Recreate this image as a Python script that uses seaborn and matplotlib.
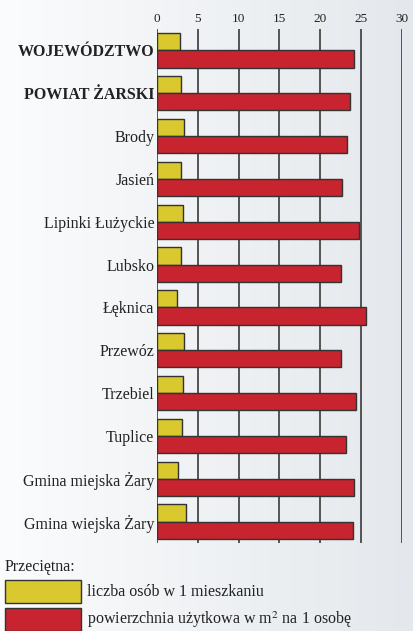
import numpy as np
import pandas as pd
import seaborn as sns
import matplotlib.pyplot as plt
from matplotlib.colors import LinearSegmentedColormap
from matplotlib.patches import Patch

# Data
places = ['WOJEWÓDZTWO', 'POWIAT ŻARSKI', 'Brody', 'Jasień', 'Lipinki Łużyckie',
          'Lubsko', 'Łęknica', 'Przewóz', 'Trzebiel', 'Tuplice',
          'Gmina miejska Żary', 'Gmina wiejska Żary']
persons_per_flat = [2.87, 2.95, 3.32, 2.99, 3.19, 2.99, 2.50, 3.32, 3.19, 3.11, 2.62, 3.56]
area_per_person = [24.1, 23.6, 23.3, 22.7, 24.7, 22.5, 25.6, 22.5, 24.4, 23.1, 24.2, 24.0]
series = ['liczba osób w 1 mieszkaniu', 'powierzchnia użytkowa w m$^2$ na 1 osobę']
colors = ['#d9c82e', '#c8242f']

df = pd.DataFrame({'place': places, series[0]: persons_per_flat, series[1]: area_per_person})
df_long = df.melt(id_vars='place', var_name='series', value_name='value')

sns.set_style('white')
plt.rcParams['font.family'] = ['Liberation Serif', 'DejaVu Serif']
plt.rcParams['mathtext.fontset'] = 'stix'

fig = plt.figure(figsize=(4.13, 6.31), dpi=100)

# light gradient background
bg = fig.add_axes([0, 0, 1, 1], zorder=-10)
grad = np.linspace(0, 1, 256).reshape(1, -1)
bg.imshow(grad, aspect='auto', extent=[0, 1, 0, 1],
          cmap=LinearSegmentedColormap.from_list('bg', ['#fbfcfd', '#e4e8ec']))
bg.axis('off')

ax = fig.add_axes([0.380, 0.1395, 0.593, 0.8146])
ax.patch.set_alpha(0)
sns.barplot(data=df_long, y='place', x='value', hue='series', hue_order=series,
            palette=colors, saturation=1, orient='h', width=0.8,
            edgecolor='#333333', linewidth=1, legend=False, ax=ax, zorder=3)

ax.set_xlim(0, 30)
ax.set_xticks(range(0, 31, 5))
ax.xaxis.tick_top()
ax.tick_params(axis='x', length=0, pad=3, labelsize=9.5, colors='#222222')
ax.tick_params(axis='y', length=0, pad=2, labelsize=11.5, colors='#222222')
for lbl in ax.get_yticklabels():
    if lbl.get_text() in ('WOJEWÓDZTWO', 'POWIAT ŻARSKI'):
        lbl.set_fontweight('bold')
ax.grid(axis='x', color='#3a3a3a', linewidth=1.2, zorder=0)
ax.set_axisbelow(True)
ax.set_xlabel('')
ax.set_ylabel('')
for s in ax.spines.values():
    s.set_visible(False)

handles = [Patch(facecolor=c, edgecolor='#333333', linewidth=1) for c in colors]
leg = fig.legend(handles, series, title='Przeciętna:', loc='upper left',
                 bbox_to_anchor=(0.0, 0.122), frameon=False, fontsize=11.5,
                 title_fontsize=11.5, handlelength=4.75, handleheight=1.85,
                 handletextpad=0.4, labelspacing=0.3, alignment='left',
                 borderpad=0.3, borderaxespad=0, labelcolor='#222222')
leg.get_title().set_color('#222222')

fig.savefig('out.png', dpi=100)
